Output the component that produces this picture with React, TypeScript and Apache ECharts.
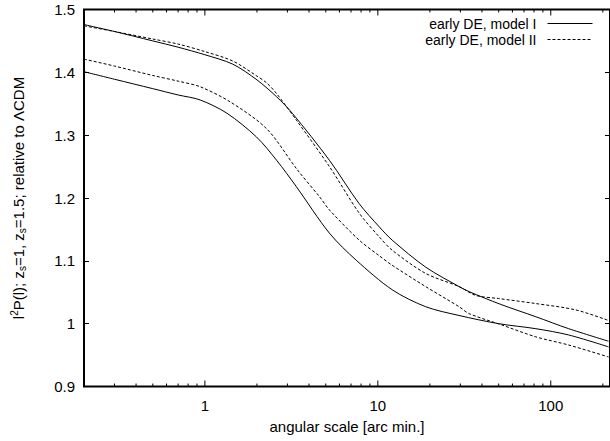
import React, { useEffect, useRef } from 'react';
import * as echarts from 'echarts';

// ---- data ----
const NAME_I = 'early DE, model I';
const NAME_II = 'early DE, model II';

// model I, upper curve
const modelIUpperX = [0.2, 0.3, 0.5, 0.7, 1, 1.45, 2, 2.6, 3.2, 5.25, 7.8, 10.2, 12.1, 18.9, 29.5, 33.7, 51, 82, 127, 216];
const modelIUpperY = [1.476, 1.465, 1.45, 1.44, 1.428, 1.413, 1.388, 1.361, 1.335, 1.26, 1.191, 1.154, 1.133, 1.09, 1.059, 1.051, 1.031, 1.011, 0.992, 0.972];

// model I, lower curve
const modelILowerX = [0.2, 0.3, 0.5, 0.7, 0.94, 1.34, 1.99, 2.6, 3.38, 5.25, 7.5, 12.1, 18.9, 29.5, 50, 82, 127, 216];
const modelILowerY = [1.401, 1.389, 1.374, 1.364, 1.356, 1.335, 1.297, 1.26, 1.218, 1.144, 1.101, 1.054, 1.027, 1.013, 1.0, 0.992, 0.982, 0.963];

// model II, upper curve
const modelIIUpperX = [0.2, 0.3, 0.5, 0.7, 1, 1.45, 2, 2.28, 2.6, 3.38, 5.25, 7.8, 10.2, 12.1, 18.9, 29.5, 36.8, 50, 82, 139, 216];
const modelIIUpperY = [1.474, 1.465, 1.453, 1.445, 1.433, 1.418, 1.394, 1.383, 1.366, 1.324, 1.25, 1.176, 1.138, 1.117, 1.08, 1.059, 1.045, 1.04, 1.032, 1.022, 1.005];

// model II, lower curve
const modelIILowerX = [0.2, 0.3, 0.5, 0.7, 0.94, 1.4, 2.28, 3.4, 4.6, 5.25, 7.8, 10.2, 12.1, 18.9, 29.5, 33.7, 52, 82, 127, 216];
const modelIILowerY = [1.421, 1.41, 1.395, 1.386, 1.377, 1.353, 1.31, 1.246, 1.202, 1.181, 1.133, 1.108, 1.093, 1.059, 1.027, 1.016, 0.998, 0.979, 0.966, 0.947];

// axis ticks
const xMinorTicks = [0.2, 0.3, 0.4, 0.5, 0.6, 0.7, 0.8, 0.9, 2, 3, 4, 5, 6, 7, 8, 9, 20, 30, 40, 50, 60, 70, 80, 90, 200];
const xMajorTicks = [1, 10, 100];
const X_MIN = 0.2;
const X_MAX = 220;
const Y_MIN = 0.9;
const Y_MAX = 1.5;
const Y_STEP = 0.1;

const FONT = '"Liberation Sans", Arial, Helvetica, sans-serif';

const pairs = (xs: number[], ys: number[]) => xs.map((x, i) => [x, ys[i]]);

function buildOption(): any {
  const tickData = [
    ...xMinorTicks.map((v) => [v, Y_MIN, 0]),
    ...xMajorTicks.map((v) => [v, Y_MIN, 1]),
  ];
  const solid = { color: '#000', width: 1, type: 'solid' };
  const dashed = { color: '#000', width: 1, type: [3, 2] };
  const legendBase = {
    orient: 'vertical',
    align: 'right',
    right: 17,
    padding: 0,
    itemWidth: 45,
    itemHeight: 12,
    itemGap: 0,
    selectedMode: false,
    itemStyle: { opacity: 0 },
    lineStyle: { width: 1 },
    textStyle: { fontSize: 14, lineHeight: 15, color: '#000', fontFamily: FONT, padding: [0, 6, 0, 0] },
  };
  return {
    animation: false,
    backgroundColor: '#fff',
    textStyle: { fontFamily: FONT },
    grid: {
      left: 84,
      top: 9.5,
      width: 527,
      height: 377,
      show: true,
      borderColor: '#000',
      borderWidth: 2,
      backgroundColor: 'transparent',
    },
    legend: [
      { ...legendBase, top: 16, data: [{ name: NAME_I }] },
      { ...legendBase, top: 32, data: [{ name: NAME_II }] },
    ],
    xAxis: {
      type: 'log',
      logBase: 10,
      min: X_MIN,
      max: X_MAX,
      name: 'angular scale [arc min.]',
      nameLocation: 'middle',
      nameGap: 32,
      nameTextStyle: { fontSize: 15, color: '#000', fontFamily: FONT },
      axisLine: { show: false },
      axisTick: { show: false },
      splitLine: { show: false },
      axisLabel: {
        color: '#000',
        fontSize: 15,
        fontFamily: FONT,
        margin: 11,
        showMinLabel: false,
        showMaxLabel: false,
      },
    },
    yAxis: [
      {
        type: 'value',
        min: Y_MIN,
        max: Y_MAX,
        interval: Y_STEP,
        name: 'l{sup|2}P(l); z{sub|s}=1, z{sub|s}=1.5; relative to ΛCDM',
        nameLocation: 'middle',
        nameRotate: 90,
        nameGap: 57,
        nameTextStyle: {
          fontSize: 15,
          lineHeight: 18,
          color: '#000',
          fontFamily: FONT,
          rich: {
            sup: { fontSize: 10, lineHeight: 10, verticalAlign: 'top', color: '#000', fontFamily: FONT },
            sub: { fontSize: 10, lineHeight: 10, verticalAlign: 'bottom', color: '#000', fontFamily: FONT },
          },
        },
        axisLine: { show: false },
        axisTick: { show: true, inside: true, length: 5, lineStyle: { color: '#000', width: 1 } },
        splitLine: { show: false },
        axisLabel: { color: '#000', fontSize: 15, fontFamily: FONT, margin: 9 },
      },
      {
        type: 'value',
        position: 'right',
        min: Y_MIN,
        max: Y_MAX,
        interval: Y_STEP,
        axisLine: { show: false },
        axisTick: { show: true, inside: true, length: 5, lineStyle: { color: '#000', width: 1 } },
        splitLine: { show: false },
        axisLabel: { show: false },
      },
    ],
    series: [
      {
        type: 'line',
        name: NAME_I,
        data: pairs(modelIUpperX, modelIUpperY),
        symbol: 'none',
        smooth: 0.3,
        lineStyle: solid,
        itemStyle: { color: '#000' },
      },
      {
        type: 'line',
        name: NAME_II,
        data: pairs(modelIIUpperX, modelIIUpperY),
        symbol: 'none',
        smooth: 0.3,
        lineStyle: dashed,
        itemStyle: { color: '#000' },
      },
      {
        type: 'line',
        name: NAME_I,
        data: pairs(modelILowerX, modelILowerY),
        symbol: 'none',
        smooth: 0.3,
        lineStyle: solid,
        itemStyle: { color: '#000' },
      },
      {
        type: 'line',
        name: NAME_II,
        data: pairs(modelIILowerX, modelIILowerY),
        symbol: 'none',
        smooth: 0.3,
        lineStyle: dashed,
        itemStyle: { color: '#000' },
      },
      {
        type: 'custom',
        name: 'ticks',
        silent: true,
        clip: false,
        z: 5,
        encode: { x: 0, y: 1 },
        data: tickData,
        renderItem: (params: any, api: any) => {
          const v = api.value(0);
          const major = api.value(2) === 1;
          const len = major ? 6 : 3;
          const b = api.coord([v, Y_MIN]);
          const t = api.coord([v, Y_MAX]);
          const style = { stroke: '#000', lineWidth: 1 };
          return {
            type: 'group',
            children: [
              { type: 'line', shape: { x1: b[0], y1: b[1], x2: b[0], y2: b[1] - len }, style },
              { type: 'line', shape: { x1: t[0], y1: t[1], x2: t[0], y2: t[1] + len }, style },
            ],
          };
        },
      },
    ],
  };
}

export default function App() {
  const ref = useRef<HTMLDivElement>(null);
  useEffect(() => {
    if (!ref.current) return;
    const chart = echarts.init(ref.current, null, { renderer: 'svg' });
    chart.setOption(buildOption());
    return () => chart.dispose();
  }, []);
  return (
    <div
      ref={ref}
      style={{ position: 'absolute', left: 0, top: 0, width: 610, height: 441 }}
    />
  );
}
